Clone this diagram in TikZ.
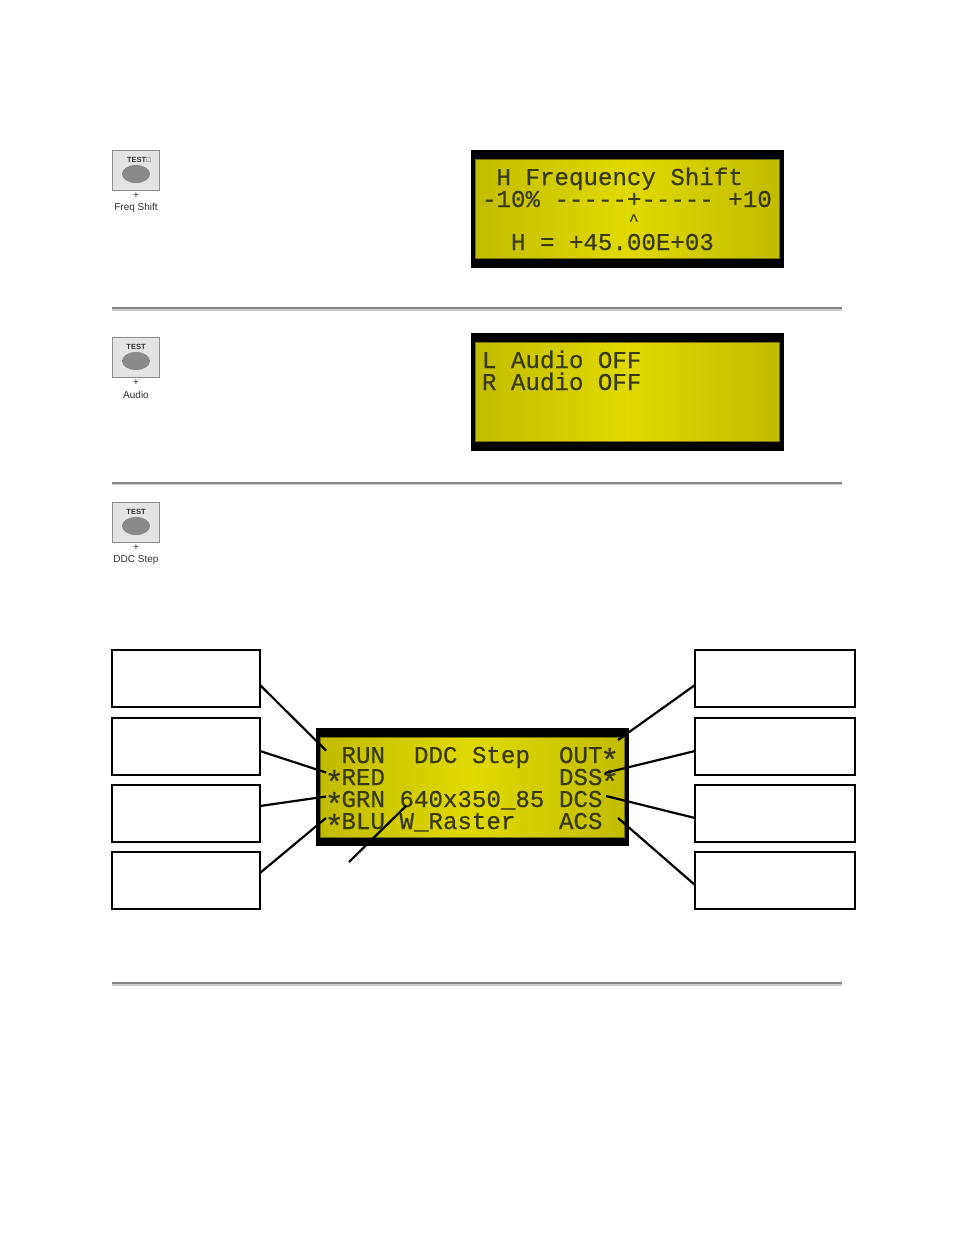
\documentclass[tikz,border=0pt]{standalone}
\usepackage{fontspec}
\setmainfont{Liberation Sans}
\newfontfamily\lcdfont[FakeBold=0.5]{Liberation Mono}
\newcommand{\lcdstar}{\makebox[14.5pt]{\raisebox{-8pt}{\fontsize{32}{32}\selectfont *}}}
\definecolor{lcdedge}{HTML}{C2BC00}
\definecolor{lcdmid}{HTML}{E0D900}
\definecolor{lcdink}{HTML}{3A3A12}
\definecolor{btnfill}{HTML}{E4E4E4}
\definecolor{btnline}{HTML}{8E8E8E}
\definecolor{btnoval}{HTML}{8A8A8A}
\tikzset{
  x=1pt,y=-1pt,
  lcdframe/.style={fill=black,draw=none,inner sep=0,outer sep=0,minimum width=313pt,minimum height=118pt},
  lcdpanel/.style={shade,left color=lcdedge,right color=lcdedge,middle color=lcdmid,draw=lcdedge!60!black,line width=0.8pt},
  lcdline/.style={anchor=base west,inner sep=0,outer sep=0,text=lcdink,font=\lcdfont\fontsize{24.15}{24}\selectfont},
  lcdcaret/.style={anchor=base west,inner sep=0,outer sep=0,text=lcdink,font=\lcdfont\fontsize{16}{16}\selectfont},
  btnbox/.style={fill=btnfill,draw=btnline,line width=0.8pt,inner sep=0,outer sep=0,minimum width=47.5pt,minimum height=40.5pt},
  btnoval/.style={ellipse,fill=btnoval,draw=none,inner sep=0,minimum width=28pt,minimum height=18pt},
  btntop/.style={inner sep=0,text=black!80,font=\bfseries\fontsize{7.5}{8}\selectfont},
  btnlabel/.style={inner sep=0,text=black!80,font=\fontsize{10}{11}\selectfont},
  callout/.style={fill=white,draw=black,line width=2pt,inner sep=0,outer sep=0,minimum height=57pt},
  leftcallout/.style={callout,minimum width=148pt},
  rightcallout/.style={callout,minimum width=160pt},
  leader/.style={draw=black,line width=2.2pt},
  rulerdark/.style={fill=black!48,draw=none},
  rulerlight/.style={fill=black!20,draw=none},
}
\usetikzlibrary{shapes.geometric}
\begin{document}
\begin{tikzpicture}
\useasboundingbox (0,0) rectangle (954,1235);
\fill[white] (0,0) rectangle (954,1235);

% rulers
\fill[rulerdark] (112,307) rectangle (842,309);
\fill[rulerlight] (112,309) rectangle (842,311);
\fill[rulerdark] (112,482) rectangle (842,483.5);
\fill[rulerlight] (112,483.5) rectangle (842,485);
\fill[rulerdark] (112,982) rectangle (842,983.5);
\fill[rulerlight] (112,983.5) rectangle (842,986);

% buttons
\node[btnbox] (b1) at (136,170.5) {};
\node[btnoval] (o1) at (136,174) {};
\node[btntop] (t1) at (139,160) {TEST□};
\node[btnlabel] (p1) at (136,196) {+};
\node[btnlabel] (f1) at (136,208) {Freq Shift};

\node[btnbox] (b2) at (136,357.5) {};
\node[btnoval] (o2) at (136,361) {};
\node[btntop] (t2) at (136,347) {TEST};
\node[btnlabel] (p2) at (136,383) {+};
\node[btnlabel] (f2) at (136,395) {Audio};

\node[btnbox] (b3) at (136,522.5) {};
\node[btnoval] (o3) at (136,526) {};
\node[btntop] (t3) at (136,512) {TEST};
\node[btnlabel] (p3) at (136,548) {+};
\node[btnlabel] (f3) at (136,560) {DDC Step};

% LCD 1
\node[lcdframe] (lcda) at (627.5,209) {};
\path[lcdpanel] (475,159) rectangle (779,258);
\node[lcdline] (a1) at (496.5,185) {H Frequency Shift};
\node[lcdline] (a2) at (482,207) {-10\% -----+----- +10};
\node[lcdcaret] (a3) at (629,225) {\^{}};
\node[lcdline] (a4) at (511,250) {H = +45.00E+03};

% LCD 2
\node[lcdframe] (lcdb) at (627.5,392) {};
\path[lcdpanel] (475,342) rectangle (779,441);
\node[lcdline] (b1t) at (482,368) {L Audio OFF};
\node[lcdline] (b2t) at (482,390) {R Audio OFF};

% LCD 3
\node[lcdframe] (lcdc) at (472.5,787) {};
\path[lcdpanel] (320,737) rectangle (624,837);
\node[lcdline] (c1a) at (341.5,763) {RUN};
\node[lcdline] (c1b) at (414,763) {DDC Step};
\node[lcdline] (c1c) at (559,763) {OUT\lcdstar};
\node[lcdline] (c2a) at (327,785) {\lcdstar RED};
\node[lcdline] (c2c) at (559,785) {DSS\lcdstar};
\node[lcdline] (c3a) at (327,807) {\lcdstar GRN};
\node[lcdline] (c3b) at (399.5,807) {640x350\_85};
\node[lcdline] (c3c) at (559,807) {DCS};
\node[lcdline] (c4a) at (327,829) {\lcdstar BLU};
\node[lcdline] (c4b) at (399.5,829) {W\_Raster};
\node[lcdline] (c4c) at (559,829) {ACS};

% callouts
\node[leftcallout] (l1) at (186,678.5) {};
\node[leftcallout] (l2) at (186,746.5) {};
\node[leftcallout] (l3) at (186,813) {};
\node[leftcallout] (l4) at (186,880.5) {};
\node[rightcallout] (r1) at (775,678.5) {};
\node[rightcallout] (r2) at (775,746.5) {};
\node[rightcallout] (r3) at (775,813) {};
\node[rightcallout] (r4) at (775,880.5) {};

% leader ends
\coordinate (el1) at (326,750.5);
\coordinate (el2) at (326,772.5);
\coordinate (el3) at (326,796.5);
\coordinate (el4) at (326,818);
\coordinate (er1) at (618,740);
\coordinate (er2) at (605,773);
\coordinate (er3) at (606,796);
\coordinate (er4) at (618,818);
\coordinate (es) at (349,862);
\coordinate (ee) at (406,806);

\draw[leader] ([yshift=-6.5pt]l1.east) -- (el1);
\draw[leader] ([yshift=-4.5pt]l2.east) -- (el2);
\draw[leader] ([yshift=7pt]l3.east) -- (el3);
\draw[leader] ([yshift=7.5pt]l4.east) -- (el4);
\draw[leader] ([yshift=-6.5pt]r1.west) -- (er1);
\draw[leader] ([yshift=-4.5pt]r2.west) -- (er2);
\draw[leader] ([yshift=-5pt]r3.west) -- (er3);
\draw[leader] ([yshift=-4.5pt]r4.west) -- (er4);
\draw[leader] (es) -- (ee);
\end{tikzpicture}
\end{document}
